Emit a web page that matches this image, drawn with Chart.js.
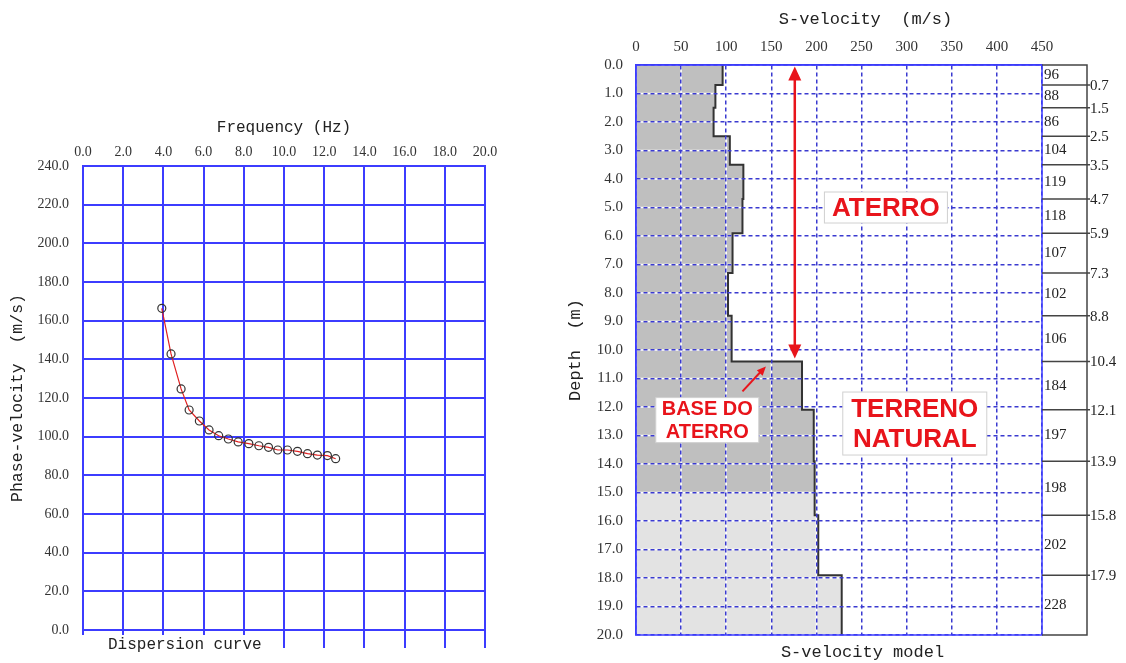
<!DOCTYPE html>
<html>
<head>
<meta charset="utf-8">
<script src="https://cdn.jsdelivr.net/npm/chart.js@4.4.1/dist/chart.umd.min.js"></script>
<style>
  body { margin: 0; background: #fff; width: 1126px; height: 663px; overflow: hidden; position: relative; }
  #dispersion { position: absolute; left: 0; top: 0; }
  #model { position: absolute; left: 545px; top: 0; }
</style>
</head>
<body>
<canvas id="dispersion" width="545" height="663"></canvas>
<canvas id="model" width="581" height="663"></canvas>
<script>
// dispersion curve picked points
const freqHz = [3.92, 4.38, 4.88, 5.28, 5.79, 6.27, 6.75, 7.23, 7.72, 8.25, 8.75, 9.23, 9.69, 10.17, 10.67, 11.17, 11.66, 12.16, 12.57];
const phaseVel = [166.4, 142.8, 124.7, 113.8, 108.1, 103.5, 100.5, 98.8, 97.3, 96.4, 95.3, 94.5, 93.1, 93.1, 92.4, 91.2, 90.5, 90.2, 88.6];

// S-velocity model layers
const layerVel = [96, 88, 86, 104, 119, 118, 107, 102, 106, 184, 197, 198, 202, 228];
const layerTop = [0, 0.7, 1.5, 2.5, 3.5, 4.7, 5.9, 7.3, 8.8, 10.4, 12.1, 13.9, 15.8, 17.9];
const layerBottom = [0.7, 1.5, 2.5, 3.5, 4.7, 5.9, 7.3, 8.8, 10.4, 12.1, 13.9, 15.8, 17.9, 20.0];
const darkFillTo = 15.0;

const BLUE = '#3c3cff';
const GRIDBLUE = '#3a3ad0';
const RED = '#e8141b';
const serif = 'Liberation Serif';
const mono = 'Liberation Mono';

// ---------- left: dispersion curve ----------
const dispersionExtras = {
    id: 'dispersionExtras',
    afterDraw(chart) {
        const { ctx, chartArea } = chart;
        const xs = chart.scales.x;
        ctx.save();
        // small tick stubs under the bottom edge
        ctx.strokeStyle = BLUE;
        ctx.lineWidth = 2;
        xs.ticks.forEach(t => {
            const px = Math.round(xs.getPixelForValue(t.value));
            ctx.beginPath();
            ctx.moveTo(px, chartArea.bottom);
            ctx.lineTo(px, chartArea.bottom + (t.value >= 10 ? 18 : 5));
            ctx.stroke();
        });
        ctx.fillStyle = '#222';
        ctx.font = '16px ' + mono;
        ctx.textBaseline = 'middle';
        ctx.fillText('Dispersion curve', chartArea.left + 25, chartArea.bottom + 15);
        ctx.restore();
    }
};

new Chart(document.getElementById('dispersion'), {
    type: 'scatter',
    data: {
        datasets: [{
            data: freqHz.map((f, i) => ({ x: f, y: phaseVel[i] })),
            showLine: true,
            borderColor: '#e02020',
            borderWidth: 1.2,
            pointRadius: 4,
            pointBorderColor: '#333',
            pointBorderWidth: 1.2,
            pointBackgroundColor: 'rgba(255,255,255,0)'
        }]
    },
    options: {
        responsive: false,
        animation: false,
        layout: { padding: { left: 0, top: 0, right: 60, bottom: 33 } },
        plugins: { legend: { display: false }, tooltip: { enabled: false } },
        scales: {
            x: {
                type: 'linear', position: 'top', min: 0, max: 20,
                ticks: { stepSize: 2, maxRotation: 0, autoSkip: false, padding: 5, color: '#333',
                    font: { family: serif, size: 14 }, callback: v => v.toFixed(1) },
                grid: { color: BLUE, lineWidth: 2, drawTicks: false },
                border: { color: BLUE, width: 2 },
                title: { display: true, text: 'Frequency (Hz)', color: '#222',
                    font: { family: mono, size: 16 }, padding: { top: 118, bottom: 0 } },
                afterFit: s => { s.height = 166; }
            },
            y: {
                min: 0, max: 240,
                ticks: { stepSize: 20, padding: 14, color: '#333',
                    font: { family: serif, size: 14 }, callback: v => v.toFixed(1) },
                grid: { color: BLUE, lineWidth: 2, drawTicks: false },
                border: { color: BLUE, width: 2 },
                title: { display: true, text: 'Phase-velocity  (m/s)', color: '#222',
                    font: { family: mono, size: 16.5 }, padding: { top: 8, bottom: 0 } },
                afterFit: s => { s.width = 83; }
            }
        }
    },
    plugins: [dispersionExtras]
});

// ---------- right: S-velocity model ----------
const profilePts = [];
layerVel.forEach((v, i) => {
    profilePts.push({ x: v, y: layerTop[i] });
    profilePts.push({ x: v, y: layerBottom[i] });
});

// annotations in data units (velocity, depth)
const bigArrow = { x: 176, from: 0.05, to: 10.3 };
const smallArrow = { x1: 118, y1: 11.45, x2: 144, y2: 10.58 };
const labels = [
    { lines: ['ATERRO'], x: 277, y: 5.0, size: 26, w: 123, h: 31 },
    { lines: ['TERRENO', 'NATURAL'], x: 309, y: 12.58, size: 26, w: 144, h: 63 },
    { lines: ['BASE DO', 'ATERRO'], x: 79, y: 12.46, size: 20, w: 103, h: 45 }
];
const TABLE_W = 45;

function arrowHead(ctx, x1, y1, x2, y2, len, half) {
    const a = Math.atan2(y2 - y1, x2 - x1);
    ctx.beginPath();
    ctx.moveTo(x2, y2);
    ctx.lineTo(x2 - len * Math.cos(a) + half * Math.sin(a), y2 - len * Math.sin(a) - half * Math.cos(a));
    ctx.lineTo(x2 - len * Math.cos(a) - half * Math.sin(a), y2 - len * Math.sin(a) + half * Math.cos(a));
    ctx.closePath();
    ctx.fill();
}

const modelFill = {
    id: 'modelFill',
    beforeDatasetsDraw(chart) {
        const { ctx, chartArea } = chart;
        const xs = chart.scales.x, ys = chart.scales.y;
        const poly = () => {
            ctx.beginPath();
            ctx.moveTo(xs.getPixelForValue(0), ys.getPixelForValue(0));
            profilePts.forEach(p => ctx.lineTo(xs.getPixelForValue(p.x), ys.getPixelForValue(p.y)));
            ctx.lineTo(xs.getPixelForValue(0), ys.getPixelForValue(20));
            ctx.closePath();
        };
        const yCut = ys.getPixelForValue(darkFillTo);
        ctx.save();
        poly();
        ctx.clip();
        ctx.fillStyle = '#bfbfbf';
        ctx.fillRect(chartArea.left, chartArea.top, chartArea.width, yCut - chartArea.top);
        ctx.fillStyle = '#e3e3e3';
        ctx.fillRect(chartArea.left, yCut, chartArea.width, chartArea.bottom - yCut);
        // white base under the dashed grid inside the gray
        ctx.strokeStyle = '#fff';
        ctx.lineWidth = 1.5;
        xs.ticks.forEach(t => {
            const px = xs.getPixelForValue(t.value);
            ctx.beginPath(); ctx.moveTo(px, chartArea.top); ctx.lineTo(px, chartArea.bottom); ctx.stroke();
        });
        ys.ticks.forEach(t => {
            const py = ys.getPixelForValue(t.value);
            ctx.beginPath(); ctx.moveTo(chartArea.left, py); ctx.lineTo(chartArea.right, py); ctx.stroke();
        });
        ctx.restore();
    },
    afterDraw(chart) {
        const { ctx, chartArea } = chart;
        const xs = chart.scales.x, ys = chart.scales.y;
        ctx.save();
        // solid frame
        ctx.strokeStyle = BLUE;
        ctx.lineWidth = 1.5;
        ctx.strokeRect(chartArea.left, chartArea.top, chartArea.width, chartArea.height);

        // layer table
        const x0 = chartArea.right, x1 = chartArea.right + TABLE_W;
        ctx.strokeStyle = '#444';
        ctx.lineWidth = 1.5;
        ctx.beginPath();
        ctx.moveTo(x0, chartArea.top); ctx.lineTo(x1, chartArea.top);
        ctx.lineTo(x1, chartArea.bottom); ctx.lineTo(x0, chartArea.bottom);
        ctx.stroke();
        ctx.font = '15px ' + serif;
        ctx.fillStyle = '#222';
        ctx.textBaseline = 'middle';
        layerVel.forEach((v, i) => {
            const yt = ys.getPixelForValue(layerTop[i]);
            const yb = ys.getPixelForValue(layerBottom[i]);
            ctx.textAlign = 'left';
            ctx.fillText(String(v), x0 + 2, (yt + yb) / 2);
            if (i < layerVel.length - 1) {
                ctx.beginPath(); ctx.moveTo(x0, yb); ctx.lineTo(x1 + 3, yb); ctx.stroke();
                ctx.fillText(layerBottom[i].toFixed(1), x1 + 3, yb + 1);
            }
        });

        // titles
        ctx.fillStyle = '#222';
        ctx.font = '17px ' + mono;
        ctx.textAlign = 'center';
        const cx = (chartArea.left + x1) / 2 + 4;
        ctx.fillText('S-velocity  (m/s)', cx, 19);
        ctx.fillText('S-velocity model', cx - 3, chartArea.bottom + 17);

        // big double arrow
        ctx.strokeStyle = RED;
        ctx.fillStyle = RED;
        ctx.lineWidth = 2.5;
        const ax = xs.getPixelForValue(bigArrow.x);
        const ay1 = ys.getPixelForValue(bigArrow.from), ay2 = ys.getPixelForValue(bigArrow.to);
        ctx.beginPath(); ctx.moveTo(ax, ay1 + 10); ctx.lineTo(ax, ay2 - 10); ctx.stroke();
        arrowHead(ctx, ax, ay2, ax, ay1, 14, 6.5);
        arrowHead(ctx, ax, ay1, ax, ay2, 14, 6.5);

        // small arrow to the base of the fill
        const sx1 = xs.getPixelForValue(smallArrow.x1), sy1 = ys.getPixelForValue(smallArrow.y1);
        const sx2 = xs.getPixelForValue(smallArrow.x2), sy2 = ys.getPixelForValue(smallArrow.y2);
        ctx.lineWidth = 2;
        ctx.beginPath(); ctx.moveTo(sx1, sy1); ctx.lineTo(sx2 - 5, sy2 + 5); ctx.stroke();
        arrowHead(ctx, sx1, sy1, sx2, sy2, 9, 4);

        // boxed labels
        labels.forEach(l => {
            const cxl = xs.getPixelForValue(l.x), cyl = ys.getPixelForValue(l.y);
            ctx.fillStyle = '#fff';
            ctx.fillRect(cxl - l.w / 2, cyl - l.h / 2, l.w, l.h);
            ctx.strokeStyle = '#d0d0d0';
            ctx.lineWidth = 1;
            ctx.strokeRect(cxl - l.w / 2, cyl - l.h / 2, l.w, l.h);
            ctx.fillStyle = RED;
            ctx.font = 'bold ' + l.size + 'px "Liberation Sans"';
            ctx.textAlign = 'center';
            ctx.textBaseline = 'middle';
            const lh = l.size * 1.15;
            l.lines.forEach((s, k) => {
                ctx.fillText(s, cxl, cyl + (k - (l.lines.length - 1) / 2) * lh + 1);
            });
        });
        ctx.restore();
    }
};

new Chart(document.getElementById('model'), {
    type: 'scatter',
    data: {
        datasets: [{
            data: profilePts,
            showLine: true,
            borderColor: '#333',
            borderWidth: 2,
            pointRadius: 0
        }]
    },
    options: {
        responsive: false,
        animation: false,
        layout: { padding: { left: 0, top: 0, right: 84, bottom: 28 } },
        plugins: { legend: { display: false }, tooltip: { enabled: false } },
        scales: {
            x: {
                type: 'linear', position: 'top', min: 0, max: 450,
                ticks: { stepSize: 50, maxRotation: 0, autoSkip: false, padding: 9, color: '#333',
                    font: { family: serif, size: 15 } },
                grid: { color: GRIDBLUE, lineWidth: 1.5, drawTicks: false, z: 1 },
                border: { color: BLUE, width: 1.5, dash: [4, 3], z: 1 },
                afterFit: s => { s.height = 65; }
            },
            y: {
                min: 0, max: 20, reverse: true,
                ticks: { stepSize: 1, autoSkip: false, padding: 13, color: '#333',
                    font: { family: serif, size: 15 }, callback: v => v.toFixed(1) },
                grid: { color: GRIDBLUE, lineWidth: 1.5, drawTicks: false, z: 1 },
                border: { color: BLUE, width: 1.5, dash: [4, 3], z: 1 },
                title: { display: true, text: 'Depth  (m)', color: '#222',
                    font: { family: mono, size: 17 }, padding: { top: 20, bottom: 0 } },
                afterFit: s => { s.width = 91; }
            }
        }
    },
    plugins: [modelFill]
});
</script>
</body>
</html>
